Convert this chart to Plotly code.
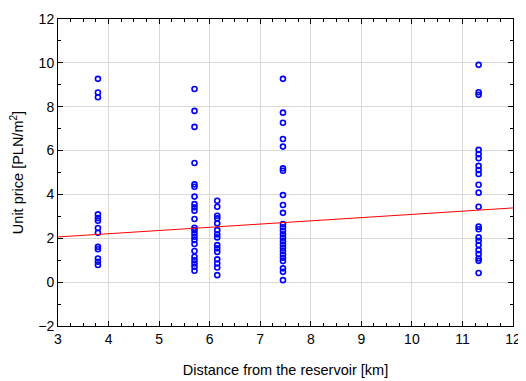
import plotly.graph_objects as go

# distances (km) of the sampled plots
dist_a = 3.79
dist_b = 5.70
dist_c = 6.15
dist_d = 7.45
dist_e = 11.32

price_a = [9.27, 8.65, 8.43, 3.09, 2.92, 2.8, 2.47, 2.25, 1.61, 1.5, 1.08, 0.93, 0.78]
price_b = [8.81, 7.81, 7.08, 5.43, 4.46, 4.35, 3.9, 3.56, 3.41, 3.26, 2.88, 2.48, 2.37,
           2.22, 2.07, 1.92, 1.74, 1.42, 1.16, 1.0, 0.85, 0.7, 0.52]
price_c = [3.71, 3.44, 3.03, 2.91, 2.68, 2.37, 2.18, 2.04, 1.69, 1.54, 1.38, 1.04,
           0.85, 0.67, 0.32]
price_d = [9.27, 7.73, 7.27, 6.53, 6.18, 5.19, 5.08, 3.97, 3.52, 3.16, 2.65, 2.5, 2.34,
           2.18, 2.03, 1.87, 1.72, 1.57, 1.42, 1.26, 1.11, 0.96, 0.63, 0.47, 0.09]
price_e = [9.91, 8.66, 8.54, 6.03, 5.83, 5.65, 5.3, 5.11, 4.93, 4.44, 4.08, 3.44, 2.53,
           2.41, 2.04, 1.89, 1.69, 1.46, 1.28, 1.08, 0.97, 0.42]

# fitted regression line
fit_intercept = 1.62
fit_slope = 0.147
fit_x = [3, 12]

xs = ([dist_a] * len(price_a) + [dist_b] * len(price_b) + [dist_c] * len(price_c)
      + [dist_d] * len(price_d) + [dist_e] * len(price_e))
ys = price_a + price_b + price_c + price_d + price_e

fig = go.Figure()
fig.add_trace(go.Scatter(
    x=xs, y=ys, mode="markers",
    marker=dict(symbol="circle-open", color="#0000ff", size=5, line=dict(width=1.6, color="#0000ff")),
    showlegend=False))
fig.add_trace(go.Scatter(
    x=fit_x, y=[fit_intercept + fit_slope * v for v in fit_x], mode="lines",
    line=dict(color="#ff0000", width=1), showlegend=False))

axis_common = dict(
    showline=True, linecolor="black", linewidth=1, mirror="allticks",
    ticks="inside", ticklen=5, tickcolor="black",
    showgrid=True, gridcolor="#d9d9d9", gridwidth=1, zeroline=False,
    tickfont=dict(family="Liberation Sans, Arial", size=14, color="black"),
)

fig.update_xaxes(range=[3, 12], dtick=1, tick0=3,
                 minor=dict(dtick=0.25, ticks="inside", ticklen=3, tickcolor="black", showgrid=False),
                 title=dict(text="Distance from the reservoir [km]", standoff=19,
                            font=dict(family="Liberation Sans, Arial", size=14.5, color="black")),
                 **axis_common)
fig.update_yaxes(range=[-2, 12], dtick=2, tick0=-2,
                 minor=dict(dtick=1, ticks="inside", ticklen=3, tickcolor="black", showgrid=False),
                 title=dict(text="Unit price [PLN/m<sup>2</sup>]", standoff=12,
                            font=dict(family="Liberation Sans, Arial", size=14.5, color="black")),
                 **axis_common)

fig.update_layout(
    width=526, height=381,
    margin=dict(l=50, r=21, t=11, b=63, autoexpand=False),
    plot_bgcolor="white", paper_bgcolor="white",
)

fig.write_html("out.html")
